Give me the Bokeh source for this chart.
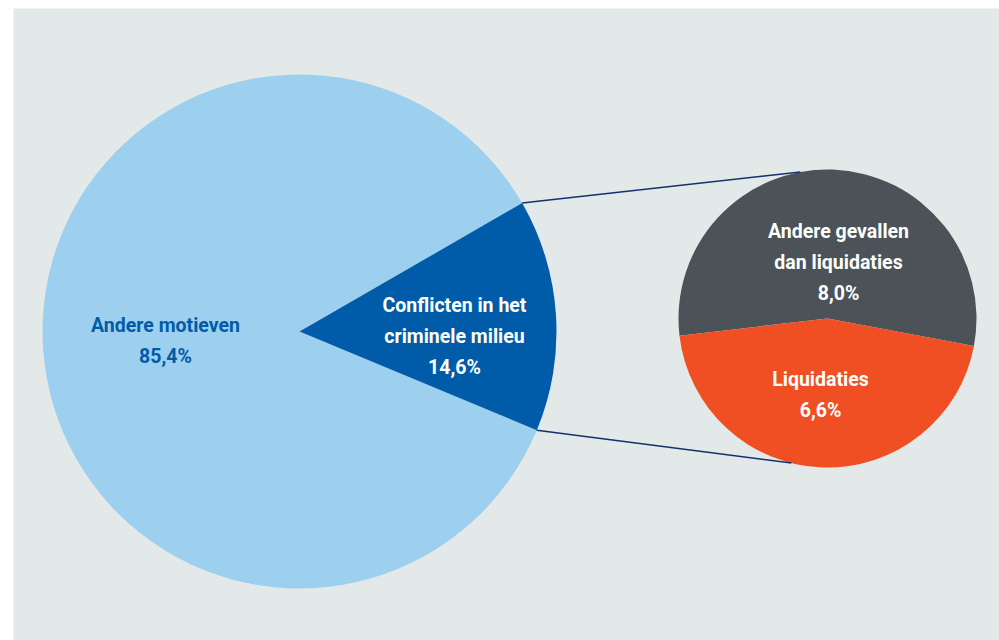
import math
from bokeh.plotting import figure
from bokeh.models import Range1d
from bokeh.core.properties import value
from bokeh.embed import file_html
from bokeh.resources import INLINE

# ---- data ----
main_labels = ["Andere motieven", "Conflicten in het criminele milieu"]
main_values = [85.4, 14.6]
main_label_lines = [["Andere motieven"], ["Conflicten in het", "criminele milieu"]]
main_colors = ["#9dcfee", "#005ca9"]
main_text_colors = ["#005ca9", "#ffffff"]

sub_labels = ["Andere gevallen dan liquidaties", "Liquidaties"]
sub_values = [8.0, 6.6]
sub_label_lines = [["Andere gevallen", "dan liquidaties"], ["Liquidaties"]]
sub_colors = ["#4b5359", "#f04e23"]
sub_text_colors = ["#ffffff", "#ffffff"]

# ---- layout constants (screen-like coordinates, y negated) ----
BIG_C = (299.0, -331.0)
BIG_R = 257.0
SMALL_C = (827.0, -318.0)
SMALL_R = 149.0
DETAIL_MID_DEG = 3.7      # direction of the exploded wedge
ORANGE_MID_DEG = 268.0    # direction of the "Liquidaties" slice
LINE_END_DEG = (100.5, 256.0)

def fmt(v):
    return f"{v:.1f}".replace(".", ",") + "%"

p = figure(width=999, height=640, output_backend="svg", toolbar_location=None,
           x_range=Range1d(13, 999), y_range=Range1d(-640, -8),
           min_border_left=13, min_border_right=0, min_border_top=8, min_border_bottom=0,
           border_fill_color="#ffffff", background_fill_color="#e3e9e8",
           outline_line_color=None)
p.axis.visible = False
p.grid.visible = False

# ---- big pie ----
tot = sum(main_values)
detail_span = 2 * math.pi * main_values[1] / tot
d_start = math.radians(DETAIL_MID_DEG) - detail_span / 2
d_end = d_start + detail_span
big_starts = [d_end, d_start]
big_ends = [d_start + 2 * math.pi, d_end]
p.wedge(x=[BIG_C[0]] * 2, y=[BIG_C[1]] * 2, radius=BIG_R,
        start_angle=big_starts, end_angle=big_ends,
        fill_color=main_colors, line_color=None)

# ---- small pie ----
stot = sum(sub_values)
o_span = 2 * math.pi * sub_values[1] / stot
o_start = math.radians(ORANGE_MID_DEG) - o_span / 2
o_end = o_start + o_span
small_starts = [o_end, o_start]
small_ends = [o_start + 2 * math.pi, o_end]
p.wedge(x=[SMALL_C[0]] * 2, y=[SMALL_C[1]] * 2, radius=SMALL_R,
        start_angle=small_starts, end_angle=small_ends,
        fill_color=sub_colors, line_color=None)

# ---- connector lines ----
for ang_big, ang_small in ((d_end, math.radians(LINE_END_DEG[0])),
                           (d_start, math.radians(LINE_END_DEG[1]))):
    x0 = BIG_C[0] + BIG_R * math.cos(ang_big)
    y0 = BIG_C[1] + BIG_R * math.sin(ang_big)
    x1 = SMALL_C[0] + SMALL_R * math.cos(ang_small)
    y1 = SMALL_C[1] + SMALL_R * math.sin(ang_small)
    p.line([x0, x1], [y0, y1], line_color="#15306e", line_width=1.6)

# ---- labels ----
LINE_H = 31
def add_label(cx, cy, lines, val, color):
    rows = lines + [fmt(val)]
    n = len(rows)
    ys = [cy + (n - 1) / 2 * LINE_H - i * LINE_H for i in range(n)]
    p.text(x=[cx] * n, y=ys, text=rows, text_align="center", text_baseline="middle",
           text_font=value("Roboto"), text_font_style="bold", text_font_size="19.5px",
           text_color=color)

add_label(165, -340, main_label_lines[0], main_values[0], main_text_colors[0])
add_label(454, -336, main_label_lines[1], main_values[1], main_text_colors[1])
add_label(838, -262, sub_label_lines[0], sub_values[0], sub_text_colors[0])
add_label(820, -394, sub_label_lines[1], sub_values[1], sub_text_colors[1])

open("out.html", "w").write(file_html(p, INLINE))
